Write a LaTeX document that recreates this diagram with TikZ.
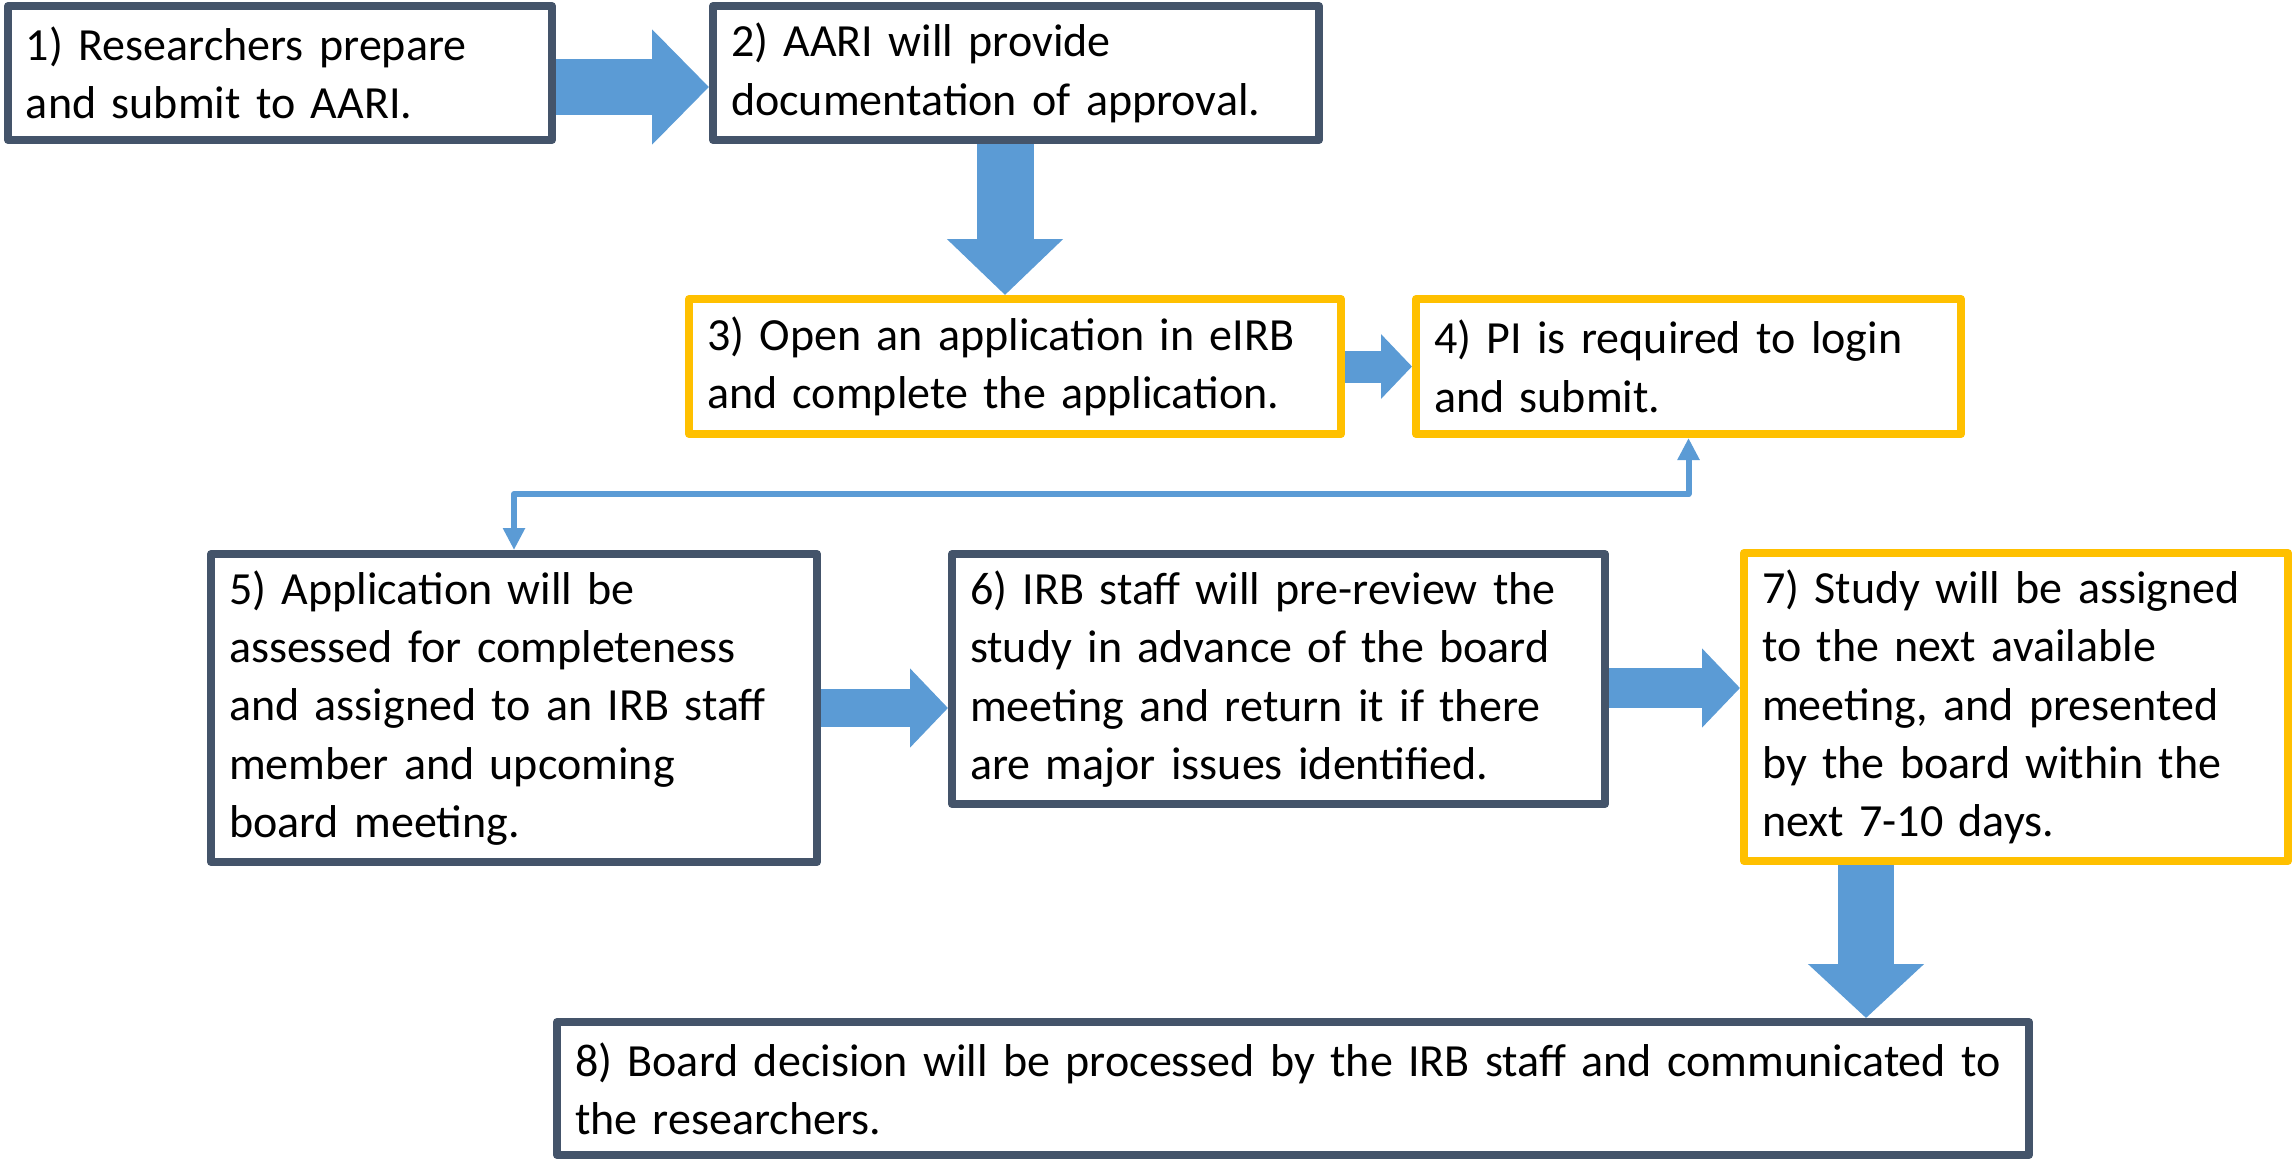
\documentclass[tikz,border=0pt]{standalone}
\usepackage{fontspec}
\setmainfont{Carlito}
\usepackage{tikz}
\usetikzlibrary{arrows.meta}

\begin{document}
\begin{tikzpicture}
		[line join=round,
		%Styles
		step box/.style={draw=boxgray,line width=0.08cm,fill=white,anchor=north west,
			inner xsep=0.18cm,align=left,font=\fontsize{13.1}{16.6}\selectfont},
		eirb box/.style={step box,draw=eirbyellow},
		big arrow/.style={arrowblue,line width=#1},
		link arrow/.style={arrowblue,line width=0.06cm,
			{Triangle[length=0.22cm,width=0.21cm]}-{Triangle[length=0.22cm,width=0.21cm]}}
		]
		
		%Colors
		\definecolor{boxgray}{HTML}{44546A}
		\definecolor{eirbyellow}{HTML}{FFC000}
		\definecolor{arrowblue}{HTML}{5B9BD5}
		
		\useasboundingbox (0,0) rectangle (22.93,-11.60);
		
		%The boxes
		\node[step box,minimum width=5.44cm,minimum height=1.34cm,text width=5.08cm] (b1) at (0.04,-0.02)
			{1) Researchers prepare\\and submit to AARI.};
		\node[step box,minimum width=6.06cm,minimum height=1.34cm,text width=5.70cm] (b2) at (7.09,-0.02)
			{2) AARI will provide\\documentation of approval.};
		\node[eirb box,minimum width=6.52cm,minimum height=1.35cm,text width=6.16cm] (b3) at (6.85,-2.95)
			{3) Open an application in eIRB\\and complete the application.};
		\node[eirb box,minimum width=5.45cm,minimum height=1.35cm,text width=5.09cm] (b4) at (14.12,-2.95)
			{4) PI is required to login\\and submit.};
		\node[step box,minimum width=6.06cm,minimum height=3.08cm,text width=5.70cm] (b5) at (2.07,-5.50)
			{5) Application will be\\assessed for completeness\\and assigned to an IRB staff\\member and upcoming\\board meeting.};
		\node[step box,minimum width=6.53cm,minimum height=2.50cm,text width=6.17cm] (b6) at (9.48,-5.50)
			{6) IRB staff will pre-review the\\study in advance of the board\\meeting and return it if there\\are major issues identified.};
		\node[eirb box,minimum width=5.44cm,minimum height=3.08cm,text width=5.08cm] (b7) at (17.40,-5.49)
			{7) Study will be assigned\\to the next available\\meeting, and presented\\by the board within the\\next 7-10 days.};
		\node[step box,minimum width=14.72cm,minimum height=1.33cm,text width=14.36cm] (b8) at (5.53,-10.18)
			{8) Board decision will be processed by the IRB staff and communicated to\\the researchers.};
		
		%The arrows
		\draw[big arrow=0.56cm,-{Triangle[length=0.57cm,width=1.12cm]},transform canvas={yshift=-0.14cm}]
			(b1.east) -- (b1.east -| b2.west);
		\draw[big arrow=0.57cm,-{Triangle[length=0.56cm,width=1.13cm]},transform canvas={xshift=-0.11cm}]
			(b2.south) -- (b2.south |- b3.north);
		\draw[big arrow=0.32cm,-{Triangle[length=0.31cm,width=0.63cm]}] (b3.east) -- (b3.east -| b4.west);
		\draw[link arrow] (b4.south) -- ++(0,-0.56) -| (b5.north);
		\draw[big arrow=0.38cm,-{Triangle[length=0.38cm,width=0.77cm]}] (b5.east) -- (b5.east -| b6.west);
		\draw[big arrow=0.40cm,-{Triangle[length=0.38cm,width=0.77cm]},transform canvas={yshift=-0.09cm}]
			(b6.east) -- (b6.east -| b7.west);
		\draw[big arrow=0.56cm,-{Triangle[length=0.54cm,width=1.13cm]},transform canvas={xshift=-1.50cm}]
			(b7.south) -- (b7.south |- b8.north);
	\end{tikzpicture}
\end{document}
